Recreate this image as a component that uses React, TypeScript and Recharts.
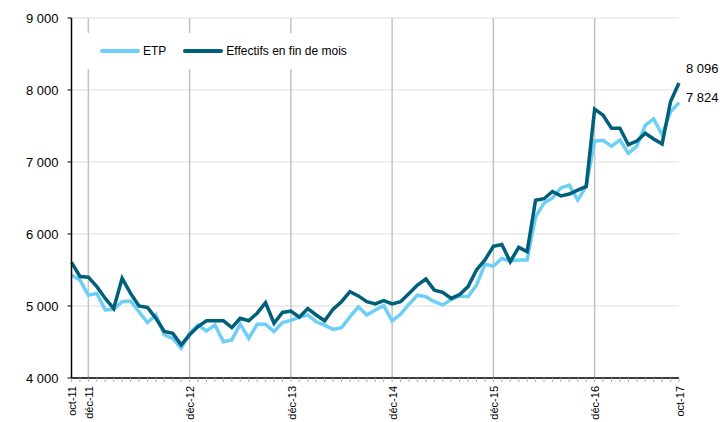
import React from 'react';
import { LineChart, Line, XAxis, YAxis, CartesianGrid, Legend, LabelList, ReferenceLine } from 'recharts';

const months = [
  'oct-11','nov-11','déc-11',
  'janv-12','févr-12','mars-12','avr-12','mai-12','juin-12','juil-12','août-12','sept-12','oct-12','nov-12','déc-12',
  'janv-13','févr-13','mars-13','avr-13','mai-13','juin-13','juil-13','août-13','sept-13','oct-13','nov-13','déc-13',
  'janv-14','févr-14','mars-14','avr-14','mai-14','juin-14','juil-14','août-14','sept-14','oct-14','nov-14','déc-14',
  'janv-15','févr-15','mars-15','avr-15','mai-15','juin-15','juil-15','août-15','sept-15','oct-15','nov-15','déc-15',
  'janv-16','févr-16','mars-16','avr-16','mai-16','juin-16','juil-16','août-16','sept-16','oct-16','nov-16','déc-16',
  'janv-17','févr-17','mars-17','avr-17','mai-17','juin-17','juil-17','août-17','sept-17','oct-17',
];

const etp = [
  5430,5360,5150,5175,4945,4955,5060,5070,4920,4770,4875,4600,4550,4415,
  4620,4735,4655,4735,4505,4530,4750,4550,4745,4745,4645,4770,4800,4845,4875,
  4780,4735,4675,4700,4850,4990,4875,4945,5005,4795,4885,5025,5150,
  5130,5060,5015,5090,5140,5130,5290,5580,5555,5660,5625,5640,5640,
  6240,6430,6500,6640,6680,6470,6660,
  7290,7300,7220,7305,7120,7220,7510,7600,7375,7700,7824,
];

const effectifs = [
  5605,5410,5400,5270,5105,4965,5385,5175,5000,4980,4830,4645,4620,4460,
  4600,4715,4795,4795,4795,4700,4830,4795,4900,5045,4760,4910,4930,4845,4965,
  4875,4795,4955,5060,5200,5140,5060,5030,5075,5030,5060,5175,5290,
  5375,5220,5190,5105,5160,5270,5500,5640,5830,5855,5615,5815,5755,
  6470,6490,6590,6530,6555,6610,6660,
  7735,7650,7470,7470,7240,7290,7400,7320,7250,7840,8096,
];

const shownLabels = ['oct-11','déc-11','déc-12','déc-13','déc-14','déc-15','déc-16','oct-17'];
const gridMonths = ['déc-11','déc-12','déc-13','déc-14','déc-15','déc-16'];
const yTicks = [4000, 5000, 6000, 7000, 8000, 9000];

const data = months.map((m, i) => ({ month: m, etp: etp[i], effectifs: effectifs[i] }));

const LIGHT = '#6DCFF6';
const DARK = '#005F7A';
const FONT = '"Liberation Sans", Arial, sans-serif';

const fmt = (v: number) => {
  const s = String(Math.round(v));
  return s.replace(/\B(?=(\d{3})+(?!\d))/g, ' ');
};

const XTick = (props: any) => {
  const { x, y, payload } = props;
  if (!shownLabels.includes(payload.value)) return null;
  return (
    <text
      x={x + 1}
      y={y}
      transform={`rotate(-90 ${x + 1} ${y})`}
      textAnchor="end"
      dy="0.35em"
      fontSize={11}
      fontFamily={FONT}
      fill="#000"
    >
      {payload.value}
    </text>
  );
};

const makeEndLabel = (dy: number) => (props: any) => {
  const { x, y, index, value } = props;
  if (index !== months.length - 1) return null;
  return (
    <text x={x + 7} y={y + dy} fontSize={13} fontFamily={FONT} fill="#000" dominantBaseline="central">
      {fmt(value)}
    </text>
  );
};

const LegendContent = () => (
  <div
    style={{
      display: 'flex',
      alignItems: 'center',
      height: '100%',
      background: '#fff',
      fontFamily: FONT,
      fontSize: 12,
      color: '#000',
      paddingLeft: 25,
      boxSizing: 'border-box',
    }}
  >
    <span style={{ display: 'inline-block', width: 40, height: 4, background: LIGHT, borderRadius: 2 }} />
    <span style={{ marginLeft: 3, marginRight: 17 }}>ETP</span>
    <span style={{ display: 'inline-block', width: 40, height: 4, background: DARK, borderRadius: 2 }} />
    <span style={{ marginLeft: 3 }}>Effectifs en fin de mois</span>
  </div>
);

export default function App() {
  return (
    <div style={{ position: 'absolute', left: 0, top: 0, width: 720, height: 422, background: '#fff' }}>
      <LineChart
        width={720}
        height={422}
        data={data}
        margin={{ top: 18, right: 41, bottom: 4, left: 0 }}
      >
        <CartesianGrid horizontal vertical={false} stroke="#dcdcdc" strokeWidth={1} />
        {gridMonths.map((m) => (
          <ReferenceLine key={m} x={m} stroke="#c3c3c3" strokeWidth={1.5} />
        ))}
        <XAxis
          dataKey="month"
          interval={0}
          height={40}
          tickSize={4}
          tickMargin={4}
          tickLine={{ stroke: '#b0b0b0' }}
          axisLine={{ stroke: '#000', strokeWidth: 1.5 }}
          tick={<XTick />}
        />
        <YAxis
          width={71.5}
          domain={[4000, 9000]}
          ticks={yTicks}
          tickFormatter={fmt}
          tickSize={4}
          tickMargin={9}
          tickLine={{ stroke: '#000' }}
          axisLine={{ stroke: '#000', strokeWidth: 1.5 }}
          tick={{ fontSize: 13, fill: '#000', fontFamily: FONT }}
        />
        <Legend
          layout="vertical"
          align="center"
          verticalAlign="middle"
          content={<LegendContent />}
          wrapperStyle={{ position: 'absolute', left: 75, top: 33, width: 290, height: 36 }}
        />
        <Line
          type="linear"
          dataKey="etp"
          name="ETP"
          stroke={LIGHT}
          strokeWidth={3.5}
          dot={false}
          isAnimationActive={false}
        >
          <LabelList dataKey="etp" content={makeEndLabel(-5)} />
        </Line>
        <Line
          type="linear"
          dataKey="effectifs"
          name="Effectifs en fin de mois"
          stroke={DARK}
          strokeWidth={3.5}
          dot={false}
          isAnimationActive={false}
        >
          <LabelList dataKey="effectifs" content={makeEndLabel(-15)} />
        </Line>
      </LineChart>
    </div>
  );
}
